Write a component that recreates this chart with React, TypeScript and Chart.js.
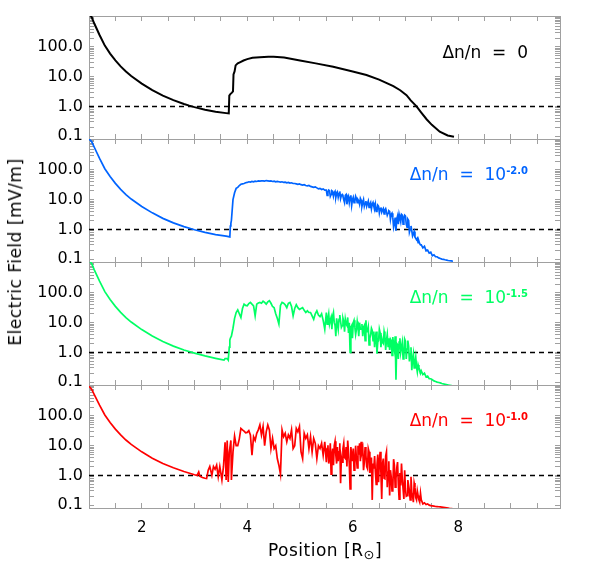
import React, { useEffect, useRef } from 'react';
import { Chart, registerables } from 'chart.js';

Chart.register(...registerables);

// ---------- axis constants ----------
const X_MIN = 1;
const X_MAX = 9.93;
const Y_MIN = 0.08;
const Y_MAX = 1100;
const REF_LEVEL = 1.0;

const X_TICKS = [1, 1.5, 2, 2.5, 3, 3.5, 4, 4.5, 5, 5.5, 6, 6.5, 7, 7.5, 8, 8.5, 9, 9.5];
const X_LABEL_VALUES = [2, 4, 6, 8];
const X_LABELS = ['2', '4', '6', '8'];

const Y_TICKS = [
  0.1, 0.2, 0.3, 0.4, 0.5, 0.6, 0.7, 0.8, 0.9,
  1, 2, 3, 4, 5, 6, 7, 8, 9,
  10, 20, 30, 40, 50, 60, 70, 80, 90,
  100, 200, 300, 400, 500, 600, 700, 800, 900,
  1000,
];
const Y_LABEL_VALUES = [0.1, 1, 10, 100];
const Y_LABELS = ['0.1', '1.0', '10.0', '100.0'];

// ---------- data ----------
const BLACK_X = [
  1.0, 1.05, 1.1, 1.2, 1.3, 1.4, 1.5, 1.6, 1.7, 1.8,
  2.0, 2.2, 2.4, 2.6, 2.8, 2.9, 3.0, 3.2, 3.4, 3.6, 3.65,
  3.66, 3.68, 3.71, 3.73, 3.74, 3.76, 3.78, 3.82, 3.87, 3.93,
  4.0, 4.1, 4.24, 4.4, 4.5, 4.7, 5.0, 5.3, 5.63, 6.0,
  6.26, 6.5, 6.77, 6.9, 7.02, 7.1, 7.21, 7.3, 7.4, 7.5,
  7.65, 7.8, 7.92,
];
const BLACK_Y = [
  1300, 1016, 614, 252, 111, 60, 35.4, 22.2, 14.9, 10.5,
  5.86, 3.54, 2.31, 1.63, 1.21, 1.06, 0.946, 0.774, 0.664, 0.594, 0.58,
  2.3, 2.6, 2.9, 3.2, 12, 15, 24, 28, 31, 35,
  39, 43, 45, 47, 47, 44, 35, 28, 21.7, 15,
  11.4, 8, 4.8, 3.5, 2.4, 1.6, 1.0, 0.62, 0.37, 0.24,
  0.14, 0.105, 0.095,
];

// shared positions of the turbulent part (3.70 .. 7.90)
const NOISE_X = [
  3.70, 3.73, 3.76, 3.79, 3.82, 3.85, 3.88, 3.91, 3.94, 3.97,
  4.00, 4.03, 4.06, 4.09, 4.12, 4.15, 4.18, 4.21, 4.24, 4.27,
  4.30, 4.33, 4.36, 4.39, 4.42, 4.45, 4.48, 4.51, 4.54, 4.57,
  4.60, 4.63, 4.66, 4.69, 4.72, 4.75, 4.78, 4.81, 4.84, 4.87,
  4.90, 4.93, 4.96, 4.99, 5.02, 5.05, 5.08, 5.11, 5.14, 5.17,
  5.20, 5.23, 5.26, 5.29, 5.32, 5.35, 5.38, 5.41, 5.44, 5.47,
  5.50, 5.53, 5.56, 5.59, 5.62, 5.65, 5.68, 5.71, 5.74, 5.77,
  5.80, 5.83, 5.86, 5.89, 5.92, 5.95, 5.98, 6.01, 6.04, 6.07,
  6.10, 6.13, 6.16, 6.19, 6.22, 6.25, 6.28, 6.31, 6.34, 6.37,
  6.40, 6.43, 6.46, 6.49, 6.52, 6.55, 6.58, 6.61, 6.64, 6.67,
  6.70, 6.73, 6.76, 6.79, 6.82, 6.85, 6.88, 6.91, 6.94, 6.97,
  7.00, 7.03, 7.06, 7.09, 7.12, 7.15, 7.18, 7.21, 7.24, 7.27,
  7.30, 7.33, 7.36, 7.39, 7.42, 7.45, 7.48, 7.51, 7.54, 7.57,
  7.60, 7.63, 7.66, 7.69, 7.72, 7.75, 7.78, 7.81, 7.84, 7.87,
  7.90,
];
// extra read positions in the densest turbulent stretch (5.515 .. 7.285)
const FILL_X = [
  5.515, 5.545, 5.575, 5.605, 5.635, 5.665, 5.695, 5.725, 5.755, 5.785,
  5.815, 5.845, 5.875, 5.905, 5.935, 5.965, 5.995, 6.025, 6.055, 6.085,
  6.115, 6.145, 6.175, 6.205, 6.235, 6.265, 6.295, 6.325, 6.355, 6.385,
  6.415, 6.445, 6.475, 6.505, 6.535, 6.565, 6.595, 6.625, 6.655, 6.685,
  6.715, 6.745, 6.775, 6.805, 6.835, 6.865, 6.895, 6.925, 6.955, 6.985,
  7.015, 7.045, 7.075, 7.105, 7.135, 7.165, 7.195, 7.225, 7.255, 7.285,
];

const BLUE_HEAD_X = [
  1.0, 1.05, 1.1, 1.2, 1.3, 1.4, 1.5, 1.6, 1.7, 1.8,
  2.0, 2.2, 2.4, 2.6, 2.8, 3.0, 3.2, 3.4, 3.6, 3.67,
  3.68, 3.69,
];
const BLUE_HEAD_Y = [
  1100, 900, 580, 245, 110, 60, 35.4, 22.2, 14.9, 10.5,
  5.9, 3.6, 2.35, 1.66, 1.24, 0.97, 0.79, 0.67, 0.59, 0.56,
  1.3, 1.6,
];
const BLUE_TAIL_Y = [
  2.0, 10, 17, 24, 26, 30, 33, 34, 35, 37,
  38, 40, 39, 41, 40, 42, 41, 43, 42, 43,
  43, 42, 44, 43, 42, 43, 41, 42, 40, 41,
  40, 39, 40, 38, 39, 37, 38, 36, 37, 35,
  35, 34, 33, 34, 32, 31, 32, 30, 29, 30,
  28, 27, 26, 27, 25, 23, 24, 22, 23, 21,
  21, 18, 20, 15, 19, 17, 12, 18, 16, 11,
  15, 10, 14, 7, 13, 12, 6.5, 12, 9, 11,
  10, 7, 9.5, 8, 6, 9, 7.5, 5.5, 8, 7,
  6, 7, 4.2, 6, 5, 3.8, 5, 4.5, 4, 3.5,
  4, 3.2, 2.5, 1.6, 0.9, 2.8, 3.2, 1.8, 3, 2.5,
  2.8, 1.2, 2.0, 1.0, 0.9, 0.7, 0.55, 0.45, 0.36, 0.33,
  0.3, 0.24, 0.27, 0.19, 0.2, 0.16, 0.17, 0.13, 0.14, 0.12,
  0.12, 0.11, 0.105, 0.1, 0.098, 0.095, 0.093, 0.09, 0.088, 0.087,
  0.085,
];
const BLUE_FILL_Y = [
  14, 21, 13, 20, 13, 19, 16, 12, 19, 14,
  13, 8, 15, 11, 8, 14, 10, 8, 13, 8,
  9, 11, 6, 10, 7.5, 6, 9, 7, 5, 8,
  5, 4, 6.5, 3.6, 5.5, 4.5, 3.3, 5, 3, 4.2,
  2.2, 3.5, 1.2, 2.5, 2.2, 1.5, 2.4, 3.2, 1.5, 3.0,
  1.5, 2.2, 0.8, 1.3, 0.6, 0.85, 0.5, 0.5, 0.4, 0.3,
];

const GREEN_HEAD_X = [
  1.0, 1.05, 1.1, 1.2, 1.3, 1.4, 1.5, 1.6, 1.7, 1.8,
  2.0, 2.2, 2.4, 2.6, 2.8, 3.0, 3.2, 3.4, 3.56, 3.58,
  3.62, 3.64, 3.66, 3.67, 3.68,
];
const GREEN_HEAD_Y = [
  1250, 980, 600, 250, 111, 60, 35.4, 22.2, 14.9, 10.5,
  5.86, 3.54, 2.31, 1.63, 1.2, 0.95, 0.76, 0.63, 0.55, 0.62,
  0.62, 0.55, 1.5, 2.6, 3.0,
];
const GREEN_TAIL_Y = [
  3.5, 6.5, 14, 22, 27, 20, 15, 30, 42, 38,
  37, 44, 48, 42, 37, 17, 42, 46, 48, 45,
  53, 48, 42, 50, 55, 45, 35, 32, 20, 14,
  9, 38, 48, 45, 40, 32, 45, 48, 35, 17,
  30, 40, 32, 28, 30, 32, 26, 22, 25, 22,
  22, 17, 13, 20, 25, 18, 16, 20, 12, 6,
  22, 14, 9, 15, 17, 10, 3.5, 9, 13, 11,
  8, 11, 13, 8, 4.5, 1.0, 8, 10, 7, 6,
  7, 10, 6, 3.5, 8, 12, 5, 1.8, 4, 5.5,
  5, 3.2, 0.9, 2.5, 4.5, 3, 2.0, 3.5, 2.6, 1.6,
  1.2, 2.5, 3.3, 1.2, 0.12, 1.8, 2.2, 1.0, 2.2, 0.7,
  2.4, 1.3, 1.6, 0.9, 0.25, 0.9, 0.45, 0.32, 0.38, 0.26,
  0.24, 0.18, 0.2, 0.15, 0.16, 0.13, 0.13, 0.12, 0.11, 0.105,
  0.1, 0.097, 0.094, 0.09, 0.087, 0.085, 0.082, 0.08, 0.078, 0.076,
  0.074,
];
const GREEN_FILL_Y = [
  9, 20, 12, 6, 22, 8, 14, 6, 18, 7,
  14, 5, 9, 15, 10, 7, 3, 12, 4, 11,
  3.5, 6, 9, 7, 2.5, 5, 7, 3, 6.5, 2.5,
  1.5, 5, 2.2, 6, 1.5, 2.2, 5, 1.2, 4, 3,
  2.8, 0.8, 1.8, 3.5, 2.0, 0.6, 3, 1.5, 0.6, 2.8,
  0.6, 2.5, 0.5, 1.5, 0.6, 0.3, 0.7, 0.22, 0.3, 0.2,
];

const RED_HEAD_X = [
  1.0, 1.05, 1.1, 1.2, 1.3, 1.4, 1.5, 1.6, 1.7, 1.8,
  2.0, 2.2, 2.4, 2.6, 2.8, 3.0, 3.05, 3.08, 3.1, 3.15,
  3.2, 3.23, 3.26, 3.29, 3.33, 3.36, 3.39, 3.42, 3.45, 3.48,
  3.52, 3.55, 3.58, 3.6, 3.62, 3.64, 3.66, 3.69,
];
const RED_HEAD_Y = [
  1000, 800, 520, 230, 108, 60, 36, 23, 15.5, 11,
  6.2, 3.8, 2.5, 1.8, 1.35, 1.05, 1.0, 1.3, 0.95, 0.85,
  0.8, 0.78, 1.5, 2.0, 1.0, 2.0, 1.6, 2.2, 0.9, 2.0,
  0.7, 2.0, 13, 0.7, 15, 0.6, 6, 15,
];
const RED_TAIL_Y = [
  0.7, 6.2, 21, 10, 10, 17, 38, 34, 31, 27,
  28, 32, 23, 4.8, 20, 15, 26, 34, 50, 23,
  44, 10, 29, 50, 34, 8, 17.6, 8, 10, 3.7,
  2.2, 1.1, 34, 20, 26, 13.5, 23, 17.6, 34, 8,
  10, 38, 29, 44, 6.2, 3.7, 26, 17.6, 23, 8,
  20, 6.2, 17.6, 12, 3.7, 10, 8, 12, 4.8, 13.5,
  2.8, 10.4, 3.7, 1.1, 8, 10, 4.8, 9, 6.2, 0.55,
  2.8, 12, 3.7, 2.0, 6.2, 0.35, 4.8, 8, 2.8, 3.7,
  10, 12, 13.5, 8, 2.8, 4.8, 1.7, 6.2, 2.8, 0.15,
  1.7, 1.3, 2.2, 0.59, 6.2, 0.16, 3.7, 0.77, 6.2, 1.3,
  0.21, 0.9, 0.35, 2.2, 0.77, 2.8, 0.16, 0.46, 0.77, 0.16,
  0.35, 0.21, 0.46, 0.15, 0.27, 0.125, 0.4, 0.15, 0.21, 0.125,
  0.15, 0.11, 0.12, 0.105, 0.11, 0.1, 0.096, 0.094, 0.092, 0.09,
  0.089, 0.088, 0.087, 0.086, 0.085, 0.083, 0.081, 0.079, 0.077, 0.076,
  0.075,
];
const RED_FILL_Y = [
  8, 2.5, 12, 5, 2.2, 14, 2.5, 3, 12, 4,
  8, 4, 9, 15, 2.5, 9, 3, 1.5, 10, 1.8,
  5, 3, 6, 1.5, 9, 2, 8, 1.2, 4, 2.5,
  4.5, 0.5, 5, 3, 1.2, 2.5, 0.8, 4.5, 0.4, 3,
  1.5, 0.3, 3.5, 0.4, 1.8, 0.5, 1.2, 2.5, 0.35, 1.5,
  0.2, 0.7, 0.3, 0.9, 0.2, 0.55, 0.18, 0.3, 0.15, 0.25,
];

const COLORS = ['#000000', '#0064ff', '#00ff64', '#ff0000'];
const EXPONENTS = [null, '-2.0', '-1.5', '-1.0'];

type Pt = { x: number; y: number };
const pts = (xs: number[], ys: number[]): Pt[] => xs.map((x, i) => ({ x, y: ys[i] }));
const merged = (...parts: Pt[][]): Pt[] => ([] as Pt[]).concat(...parts).sort((a, b) => a.x - b.x);

const SERIES: Pt[][] = [
  pts(BLACK_X, BLACK_Y),
  merged(pts(BLUE_HEAD_X, BLUE_HEAD_Y), pts(NOISE_X, BLUE_TAIL_Y), pts(FILL_X, BLUE_FILL_Y)),
  merged(pts(GREEN_HEAD_X, GREEN_HEAD_Y), pts(NOISE_X, GREEN_TAIL_Y), pts(FILL_X, GREEN_FILL_Y)),
  merged(pts(RED_HEAD_X, RED_HEAD_Y), pts(NOISE_X, RED_TAIL_Y), pts(FILL_X, RED_FILL_Y)),
];

// ---------- layout ----------
const W = 592;
const H = 567;
const PANEL_TOPS = [16, 139, 262, 385];
const PANEL_H = 123;
const PAD = 10;
const LEFT_W = 89;
const RIGHT_W = 32;
const AXIS_COLOR = '#a0a0a0';
const FONT = '"DejaVu Sans", sans-serif';

function noPad(s: any) {
  s.paddingTop = 0;
  s.paddingBottom = 0;
  s.paddingLeft = 0;
  s.paddingRight = 0;
}

function makeChart(canvas: HTMLCanvasElement, k: number, isLast: boolean) {
  const grid = {
    drawOnChartArea: false,
    drawTicks: true,
    tickLength: -5,
    tickColor: AXIS_COLOR,
    tickWidth: 1,
  };
  const border = { color: AXIS_COLOR, width: 1 };
  const xTicks = (s: any) => {
    s.ticks = X_TICKS.map((v) => ({ value: v }));
  };
  const yTicks = (s: any) => {
    s.ticks = Y_TICKS.map((v) => ({ value: v }));
  };
  const canvasH = isLast ? H - (PANEL_TOPS[k] - PAD) : PANEL_H + 2 * PAD;
  const bottomAxisH = isLast ? canvasH - PAD - PANEL_H : 0;

  return new Chart(canvas, {
    type: 'line',
    data: {
      datasets: [
        {
          data: SERIES[k],
          borderColor: COLORS[k],
          borderWidth: k === 0 ? 2 : 1.7,
          pointRadius: 0,
          tension: 0,
          xAxisID: 'x',
          yAxisID: 'y',
        },
        {
          data: [
            { x: X_MIN, y: REF_LEVEL },
            { x: X_MAX, y: REF_LEVEL },
          ],
          borderColor: '#000000',
          borderWidth: 1.5,
          borderDash: [5, 4],
          pointRadius: 0,
          xAxisID: 'x',
          yAxisID: 'y',
        },
      ],
    },
    options: {
      responsive: false,
      animation: false,
      devicePixelRatio: 1,
      events: [],
      layout: { padding: { top: PAD, bottom: isLast ? 0 : PAD, left: 0, right: 0 } },
      plugins: { legend: { display: false }, tooltip: { enabled: false }, title: { display: false } },
      scales: {
        x: {
          type: 'linear',
          position: 'bottom',
          min: X_MIN,
          max: X_MAX,
          afterBuildTicks: xTicks,
          afterFit: (s: any) => {
            s.height = bottomAxisH;
            noPad(s);
          },
          grid,
          border,
          ticks: {
            display: isLast,
            autoSkip: false,
            maxRotation: 0,
            padding: 16,
            color: '#000000',
            font: { family: FONT, size: 15 },
            callback: (v: any) => {
              const i = X_LABEL_VALUES.indexOf(Number(v));
              return i >= 0 ? X_LABELS[i] : '';
            },
          },
        },
        x2: {
          type: 'linear',
          position: 'top',
          min: X_MIN,
          max: X_MAX,
          afterBuildTicks: xTicks,
          afterFit: (s: any) => {
            s.height = 0;
            noPad(s);
          },
          grid,
          border,
          ticks: { display: false },
        },
        y: {
          type: 'logarithmic',
          position: 'left',
          min: Y_MIN,
          max: Y_MAX,
          afterBuildTicks: yTicks,
          afterFit: (s: any) => {
            s.width = LEFT_W;
            noPad(s);
          },
          grid,
          border,
          ticks: {
            autoSkip: false,
            padding: 11,
            color: '#000000',
            font: { family: FONT, size: 16 },
            callback: (v: any) => {
              const i = Y_LABEL_VALUES.indexOf(Number(v));
              return i >= 0 ? Y_LABELS[i] : '';
            },
          },
        },
        y2: {
          type: 'logarithmic',
          position: 'right',
          min: Y_MIN,
          max: Y_MAX,
          afterBuildTicks: yTicks,
          afterFit: (s: any) => {
            s.width = RIGHT_W;
            noPad(s);
          },
          grid,
          border,
          ticks: { display: false },
        },
      },
    },
  } as any);
}

export default function App() {
  const refs = [
    useRef<HTMLCanvasElement>(null),
    useRef<HTMLCanvasElement>(null),
    useRef<HTMLCanvasElement>(null),
    useRef<HTMLCanvasElement>(null),
  ];

  useEffect(() => {
    const charts = refs.map((r, k) => makeChart(r.current as HTMLCanvasElement, k, k === 3));
    return () => charts.forEach((c) => c.destroy());
  }, []);

  const textBase: React.CSSProperties = {
    position: 'absolute',
    fontFamily: FONT,
    whiteSpace: 'pre',
    lineHeight: '20px',
  };

  return (
    <div style={{ position: 'absolute', left: 0, top: 0, width: W, height: H, background: '#ffffff', overflow: 'hidden' }}>
      {PANEL_TOPS.map((top, k) => {
        const isLast = k === 3;
        const cTop = top - PAD;
        const cH = isLast ? H - cTop : PANEL_H + 2 * PAD;
        return (
          <canvas
            key={k}
            ref={refs[k]}
            width={W}
            height={cH}
            style={{ position: 'absolute', left: 0, top: cTop, width: W, height: cH }}
          />
        );
      })}
      {PANEL_TOPS.map((top, k) => (
        <div
          key={'lab' + k}
          style={{
            ...textBase,
            right: 64,
            top: top + 36,
            transform: 'translateY(-50%)',
            fontSize: 17,
            color: COLORS[k],
          }}
        >
          {EXPONENTS[k] === null ? (
            'Δn/n  =  0'
          ) : (
            <>
              {'Δn/n  =  10'}
              <span style={{ fontSize: 10, fontWeight: 'bold', position: 'relative', top: -6 }}>{EXPONENTS[k]}</span>
            </>
          )}
        </div>
      ))}
      <div
        style={{
          ...textBase,
          left: 15,
          top: 252,
          fontSize: 17,
          color: '#000000',
          transform: 'translate(-50%, -50%) rotate(-90deg)',
          letterSpacing: '0.5px',
        }}
      >
        Electric Field [mV/m]
      </div>
      <div
        style={{
          ...textBase,
          left: 325,
          top: 551,
          fontSize: 17,
          color: '#000000',
          transform: 'translate(-50%, -50%)',
          letterSpacing: '0.5px',
        }}
      >
        {'Position [R'}
        <span style={{ fontSize: 13, position: 'relative', top: 3 }}>⊙</span>
        {']'}
      </div>
    </div>
  );
}
